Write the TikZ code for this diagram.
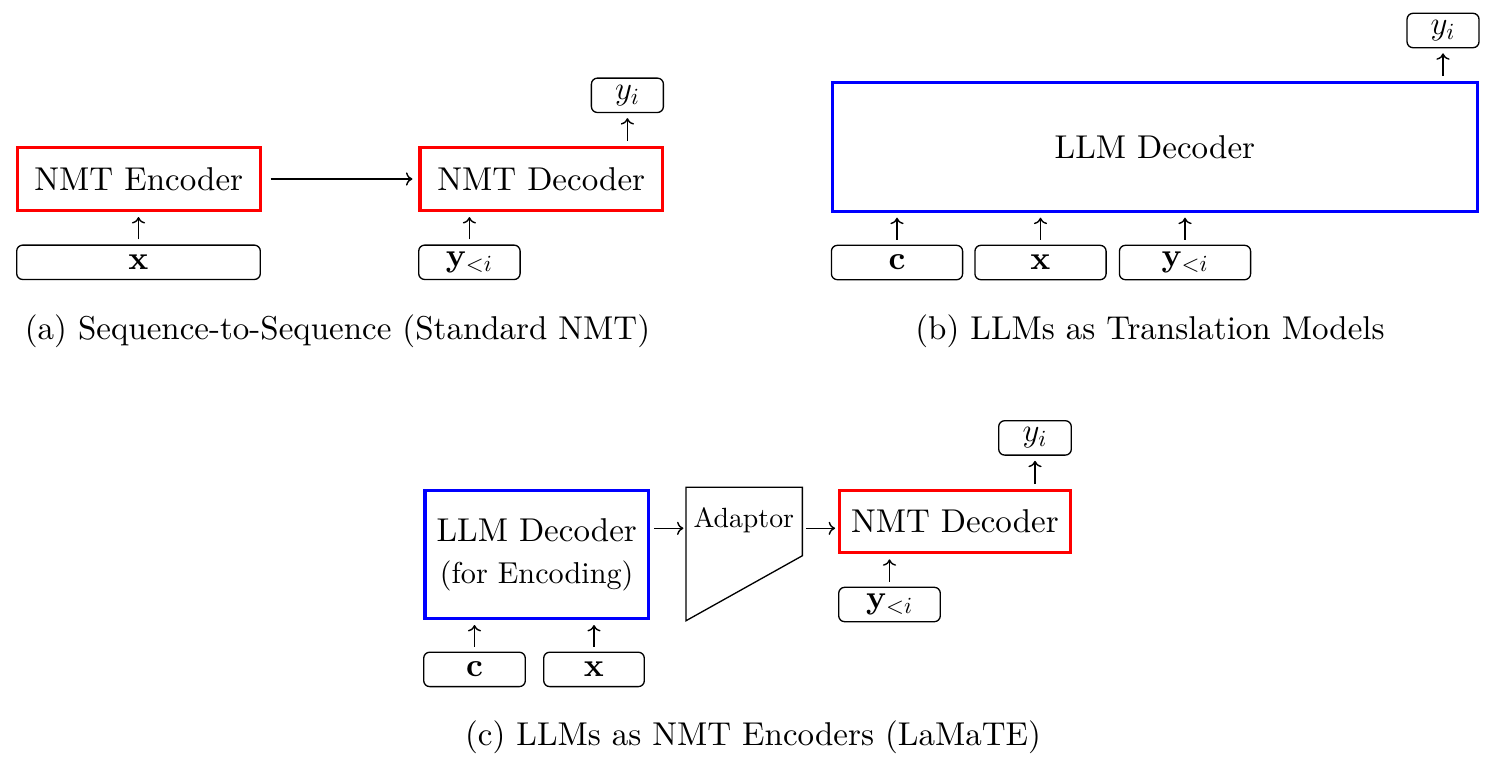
\documentclass[tikz,border=0pt]{standalone}
\usepackage{fix-cm}
\usepackage{fontspec}
\setmainfont{lmroman10-regular.otf}[BoldFont=lmroman10-bold.otf,ItalicFont=lmroman10-italic.otf,BoldItalicFont=lmroman10-bolditalic.otf]
\usetikzlibrary{calc,arrows.meta}
\newcommand\mainsz{\fontsize{16.5}{21}\selectfont}
\newcommand\smallsz{\fontsize{15.1}{21}\selectfont}
\newcommand\adsz{\fontsize{13.9}{16}\selectfont}
\begin{document}
\begin{tikzpicture}[x=0.5pt,y=-0.5pt,
  every node/.style={font=\mainsz},
  nmtbox/.style={draw=red, line width=1.6pt, inner sep=0pt},
  llmbox/.style={draw=blue, line width=1.6pt, inner sep=0pt, align=center},
  inbox/.style={draw=black, line width=0.66pt, rounded corners=3pt, inner sep=0pt, minimum height=17.2pt},
  arr/.style={-{To[length=3.2pt,width=6.6pt]}, line width=0.7pt, shorten <=2.5pt, shorten >=2.5pt},
  caption/.style={anchor=base, inner sep=0pt}]
\fill[white] (0,0) rectangle (1493,778);
\path[use as bounding box] (0,0) rectangle (1493,778);

% ---------- (a) ----------
\node[nmtbox, minimum width=121.3pt, minimum height=31.5pt] (enc) at (138.8,179) {NMT Encoder};
\node[nmtbox, minimum width=121.3pt, minimum height=31.5pt] (dec) at (541.3,179) {NMT Decoder};
\node[inbox, minimum width=121.8pt] (xa) at (138.5,262.3) {$\mathbf{x}$};
\node[inbox, minimum width=50.7pt] (ylta) at (469.4,262.3) {$\mathbf{y}_{<i}$};
\node[inbox, minimum width=36pt] (yia) at (627.4,95.3) {$y_i$};
\draw[arr] (xa.north) -- (xa.north |- enc.south);
\draw[arr] (ylta.north) -- (ylta.north |- dec.south);
\draw[arr] (yia.south |- dec.north) -- (yia.south);
\draw[arr, shorten <=4.5pt, shorten >=3pt] (enc.east) -- (dec.west);
\node[caption] (capa) at (337.5,339) {(a) Sequence-to-Sequence (Standard NMT)};

% ---------- (b) ----------
\node[llmbox, minimum width=322.5pt, minimum height=64.2pt] (llmb) at (1154.9,146.9) {LLM Decoder};
\node[inbox, minimum width=65.6pt] (cb) at (897,262.5) {$\mathbf{c}$};
\node[inbox, minimum width=65.6pt] (xb) at (1040.5,262.5) {$\mathbf{x}$};
\node[inbox, minimum width=65.6pt] (yltb) at (1185,262.5) {$\mathbf{y}_{<i}$};
\node[inbox, minimum width=36pt] (yib) at (1443,30.5) {$y_i$};
\draw[arr] (cb.north) -- (cb.north |- llmb.south);
\draw[arr] (xb.north) -- (xb.north |- llmb.south);
\draw[arr] (yltb.north) -- (yltb.north |- llmb.south);
\draw[arr] (yib.south |- llmb.north) -- (yib.south);
\node[caption] (capb) at (1150,339) {(b) LLMs as Translation Models};

% ---------- (c) ----------
\node[llmbox, minimum width=111.75pt, minimum height=63.9pt] (llmc) at (536.7,554.5) {LLM Decoder\\{\smallsz (for Encoding)}};
\node[inbox, minimum width=50.8pt] (cc) at (474.5,669.4) {$\mathbf{c}$};
\node[inbox, minimum width=50.3pt] (xc) at (594,669.4) {$\mathbf{x}$};
\draw[arr] (cc.north) -- (cc.north |- llmc.south);
\draw[arr] (xc.north) -- (xc.north |- llmc.south);

\node[draw=none, inner sep=0pt, outer sep=0pt, minimum width=58.15pt, minimum height=66.7pt] (adapt) at (744.2,554) {};
\draw[line width=0.66pt, line join=miter] (adapt.north west) -- (adapt.north east)
  -- ($(adapt.north east)!0.513!(adapt.south east)$) -- (adapt.south west) -- cycle;
\node[anchor=base, inner sep=0pt, font=\adsz] (adlbl) at (743.8,527.3) {Adaptor};

\node[nmtbox, minimum width=115.25pt, minimum height=31.05pt] (decc) at (954.9,521.7) {NMT Decoder};
\node[inbox, minimum width=50.8pt] (yltc) at (889.5,604.5) {$\mathbf{y}_{<i}$};
\node[inbox, minimum width=36.3pt] (yic) at (1035,437.9) {$y_i$};
\draw[arr] (yltc.north) -- (yltc.north |- decc.south);
\draw[arr] (yic.south |- decc.north) -- (yic.south);

\coordinate (ay) at (0,528.3);
\draw[arr, shorten <=2pt, shorten >=1.3pt] (llmc.east |- ay) -- (adapt.west |- ay);
\draw[arr, shorten <=1.7pt, shorten >=1.5pt] (adapt.east |- ay) -- (decc.west |- ay);
\node[caption] (capc) at (753,745.7) {(c) LLMs as NMT Encoders (LaMaTE)};
\end{tikzpicture}
\end{document}
